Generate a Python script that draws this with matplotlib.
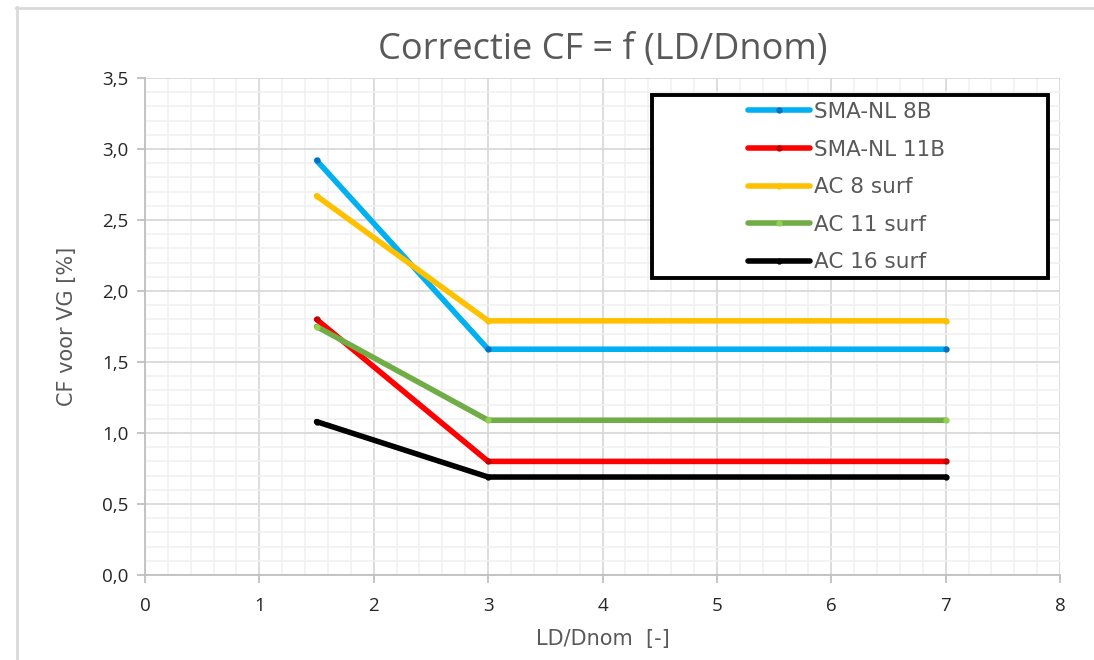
import matplotlib.pyplot as plt
from matplotlib.ticker import MultipleLocator, FuncFormatter
from matplotlib.lines import Line2D
from matplotlib.patches import Rectangle

# waarden
ld_dnom = [1.5, 3, 7]
sma_8b = [2.92, 1.59, 1.59]
sma_11b = [1.80, 0.80, 0.80]
ac_8 = [2.67, 1.79, 1.79]
ac_11 = [1.75, 1.09, 1.09]
ac_16 = [1.08, 0.69, 0.69]

series = [
    ("SMA-NL 8B", sma_8b, "#00b0f0", "#0070c0"),
    ("SMA-NL 11B", sma_11b, "#ff0000", "#c00000"),
    ("AC 8 surf", ac_8, "#ffc000", "#ffc000"),
    ("AC 11 surf", ac_11, "#70ad47", "#92d050"),
    ("AC 16 surf", ac_16, "#000000", "#000000"),
]

plt.rcParams['font.family'] = ['Open Sans', 'DejaVu Sans']

fig = plt.figure(figsize=(10.94, 6.6), dpi=100)
ax = fig.add_axes([0.1325, 0.1288, 0.8365, 0.753])

# rand van het grafiekgebied (Excel)
fig.add_artist(Line2D([16/1094, 1093/1094], [1 - 7.5/660, 1 - 7.5/660],
                      transform=fig.transFigure, color='#d9d9d9', lw=2))
fig.add_artist(Line2D([16.5/1094, 16.5/1094], [0, 1 - 7/660],
                      transform=fig.transFigure, color='#d9d9d9', lw=2))

for name, y, c, mc in series:
    ax.plot(ld_dnom, y, color=c, lw=4, label=name, marker='o', markersize=3.5,
            markerfacecolor=mc, markeredgecolor=mc, solid_capstyle='round', zorder=3)

ax.set_xlim(0, 8)
ax.set_ylim(0, 3.5)
ax.xaxis.set_major_locator(MultipleLocator(1))
ax.xaxis.set_minor_locator(MultipleLocator(0.2))
ax.yaxis.set_major_locator(MultipleLocator(0.5))
ax.yaxis.set_minor_locator(MultipleLocator(0.1))
ax.yaxis.set_major_formatter(FuncFormatter(lambda v, p: f"{v:.1f}".replace('.', ',')))

ax.grid(which='major', color='#d9d9d9', lw=1.3, zorder=0)
ax.grid(which='minor', color='#f0f0f0', lw=1.1, zorder=0)
ax.set_axisbelow(True)

for s in ['top', 'right']:
    ax.spines[s].set_visible(False)
for s in ['left', 'bottom']:
    ax.spines[s].set_color('#bfbfbf')
    ax.spines[s].set_linewidth(1.3)

ax.tick_params(which='major', length=6, width=1.3, color='#bfbfbf',
               labelsize=13.5, labelcolor='#262626')
ax.tick_params(axis='x', which='major', pad=10)
ax.tick_params(axis='y', which='major', pad=6)
ax.tick_params(which='minor', length=0)

ax.set_title('Correctie CF = f (LD/Dnom)', fontsize=26, color='#595959', pad=14)
ax.set_xlabel('LD/Dnom  [-]', fontsize=15, color='#595959', labelpad=10,
              family=['DejaVu Sans'])
ax.set_ylabel('CF voor VG [%]', fontsize=15, color='#595959', labelpad=18,
              family=['DejaVu Sans'])

# legendakader zoals in Excel (breed, dikke zwarte rand)
ax.add_patch(Rectangle((0.554, 0.598), 0.433, 0.368, transform=ax.transAxes,
                       fill=True, facecolor='white', edgecolor='black', lw=2.8,
                       zorder=4, clip_on=False))
leg = ax.legend(loc='upper left', bbox_to_anchor=(0.659, 0.952),
                frameon=False, handlelength=2.9, handletextpad=0.15,
                labelspacing=0.82, borderpad=0, borderaxespad=0,
                prop={'family': ['DejaVu Sans'], 'size': 15.5})
leg.set_zorder(5)
for t in leg.get_texts():
    t.set_color('#595959')

fig.savefig('out.png', dpi=100)
